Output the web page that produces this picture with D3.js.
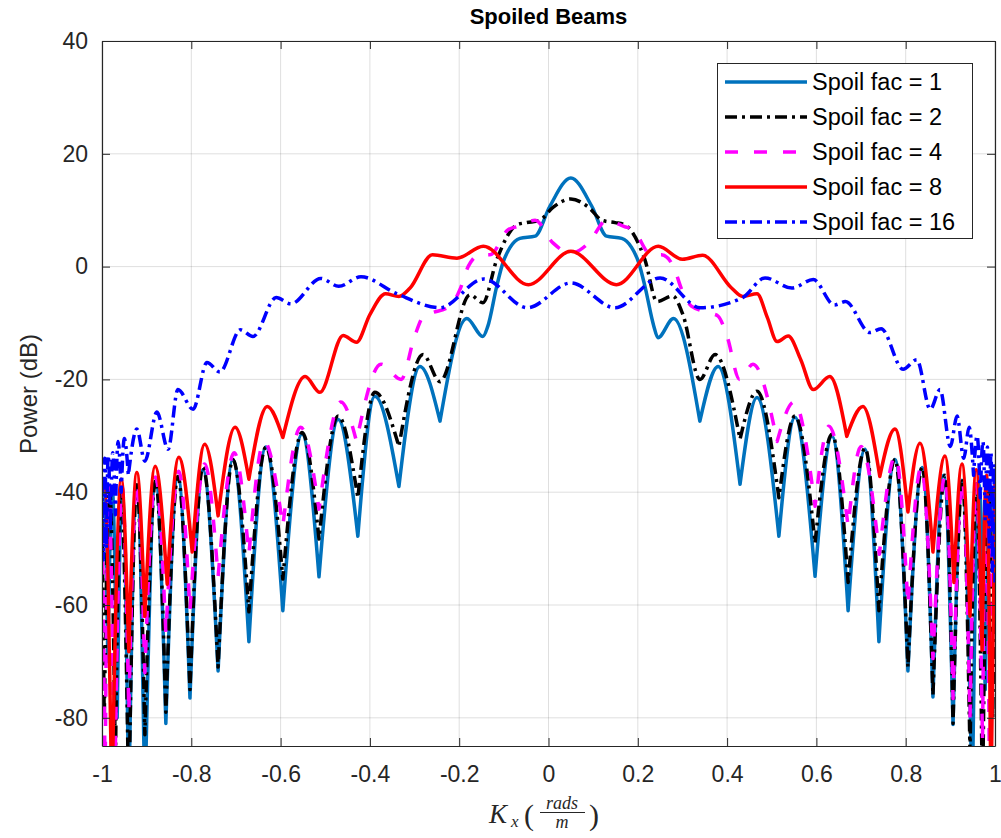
<!DOCTYPE html>
<html>
<head>
<meta charset="utf-8">
<script src="https://cdn.jsdelivr.net/npm/d3@7"></script>
<style>
  body { margin: 0; background: #fff; }
  text { font-family: "Liberation Sans", Arial, sans-serif; fill: #262626; }
  .axis path, .axis line { stroke: #262626; }
  .axis text { font-size: 23px; fill: #262626; }
</style>
</head>
<body>
<svg id="chart" width="1001" height="838"></svg>
<script>
// beam patterns: [Kx, power dB, 1 = sharp null]
const beamSpoil1 = [
  [-1.0,-40],[-0.995,-39.5],[-0.987,-70,1],[-0.977,-39.5],[-0.966,-80,1],[-0.955,-39.2],
  [-0.94,-95,1],[-0.922,-38.8],[-0.904,-95,1],[-0.88,-38.3],[-0.857,-81,1],[-0.83,-37.2],
  [-0.803,-76.5,1],[-0.774,-36],[-0.74,-71.7,1],[-0.707,-34.2],[-0.671,-66.5,1],[-0.633,-32],
  [-0.595,-61,1],[-0.552,-29.7],[-0.514,-55,1],[-0.471,-27.1],[-0.427,-47.8,1],[-0.389,-23],
  [-0.335,-39,1],[-0.288,-17.7],[-0.243,-27.4,1],[-0.183,-9.2],[-0.147,-12.4],[-0.136,-10.6],
  [-0.116,-3.5],[-0.102,0.7],[-0.086,3.4],[-0.064,5],[-0.03,5.4],[0.003,10.7],[0.05,15.7],
  [0.097,10.7],[0.13,5.4],[0.164,5],[0.186,3.4],[0.202,0.7],[0.216,-3.5],[0.236,-10.6],
  [0.245,-12.6],[0.28,-9.2],[0.339,-27.4,1],[0.38,-17.7],[0.429,-38.6,1],[0.467,-23.2],
  [0.516,-47.8,1],[0.552,-26.7],[0.597,-54.9,1],[0.635,-30.1],[0.671,-61,1],[0.709,-32.4],
  [0.74,-66.5,1],[0.776,-34.2],[0.805,-71.7,1],[0.837,-35.6],[0.861,-76.3,1],[0.885,-37],
  [0.906,-81.2,1],[0.926,-37.9],[0.949,-95,1],[0.964,-38.6],[0.978,-75,1],[0.99,-39],[1.0,-55]
];
const beamSpoil2 = [
  [-1.0,-45],[-0.995,-80,1],[-0.983,-39.5],[-0.97,-88,1],[-0.958,-39.2],[-0.94,-95,1],
  [-0.922,-38.7],[-0.904,-83,1],[-0.88,-38],[-0.857,-79,1],[-0.83,-37.2],[-0.803,-75,1],
  [-0.774,-35.6],[-0.74,-71,1],[-0.707,-34.2],[-0.671,-61.2,1],[-0.633,-32],[-0.595,-55.4,1],
  [-0.552,-29.4],[-0.514,-48.3,1],[-0.471,-26.5],[-0.427,-41,1],[-0.389,-22.3],[-0.335,-31.9,1],
  [-0.281,-15.6],[-0.243,-20.4],[-0.176,-5],[-0.147,-6.4],[-0.116,1.2],[-0.071,7.4],
  [-0.049,7.8],[-0.02,8.2],[0.01,10.5],[0.05,12],[0.09,10.5],[0.12,8.2],[0.149,7.8],
  [0.171,7.4],[0.216,1.2],[0.243,-6.2],[0.278,-5.2],[0.301,-8.5],[0.339,-20],[0.373,-15.6],
  [0.429,-30.6,1],[0.467,-22.1],[0.516,-41,1],[0.552,-26.5],[0.597,-49,1],[0.635,-29.7],
  [0.671,-56,1],[0.709,-32.2],[0.74,-61,1],[0.776,-34.2],[0.805,-71,1],[0.837,-35.6],
  [0.861,-76,1],[0.888,-37],[0.906,-81,1],[0.927,-38],[0.944,-86,1],[0.958,-38.5],
  [0.972,-95,1],[0.985,-39],[0.995,-80,1],[1.0,-45]
];
const beamSpoil4 = [
  [-1.0,-42],[-0.993,-90,1],[-0.985,-39],[-0.972,-95,1],[-0.955,-39],[-0.94,-79,1],
  [-0.922,-38.3],[-0.904,-72,1],[-0.88,-37.3],[-0.857,-65,1],[-0.828,-36.3],[-0.803,-61,1],
  [-0.77,-35],[-0.74,-55,1],[-0.704,-33],[-0.671,-51,1],[-0.637,-31],[-0.595,-46,1],
  [-0.555,-28.5],[-0.514,-43,1],[-0.465,-24],[-0.43,-31,1],[-0.375,-17.3],[-0.33,-20],
  [-0.30,-12.4],[-0.28,-8.8],[-0.265,-8.3],[-0.22,-7],[-0.198,-4],[-0.18,0],[-0.153,2.1],
  [-0.131,2.1],[-0.091,6.5],[-0.07,7.1],[-0.03,8.2],[0.01,4.2],[0.05,2.4],[0.09,4.2],
  [0.13,8.2],[0.17,7.1],[0.19,6.5],[0.23,2.1],[0.253,2.1],[0.28,0],[0.298,-4],[0.32,-7],
  [0.365,-8.3],[0.38,-8.8],[0.40,-12.4],[0.428,-20],[0.458,-17.3],[0.512,-31,1],[0.55,-24],
  [0.597,-42.5,1],[0.628,-28.3],[0.671,-46,1],[0.70,-31.9],[0.741,-51,1],[0.777,-33.6],
  [0.805,-60,1],[0.835,-35.5],[0.861,-69.5,1],[0.888,-37],[0.906,-76.6,1],[0.927,-38],
  [0.944,-80,1],[0.958,-38.5],[0.972,-84,1],[0.98,-39],[0.988,-95,1],[0.995,-39.5],[1.0,-45]
];
const beamSpoil8 = [
  [-1.0,-40],[-0.995,-38.5],[-0.978,-95,1],[-0.957,-37.7],[-0.94,-68.3,1],[-0.922,-36.5],
  [-0.904,-62,1],[-0.881,-35.4],[-0.854,-56.3,1],[-0.828,-33.8],[-0.798,-50.6,1],[-0.77,-31.5],
  [-0.74,-44.2,1],[-0.702,-28.5],[-0.671,-37.7,1],[-0.63,-24.8],[-0.595,-30.3,1],[-0.545,-19.5],
  [-0.512,-22.3],[-0.46,-12.2],[-0.43,-13.4],[-0.40,-8.5],[-0.365,-4.8],[-0.335,-5.3],
  [-0.31,-3.8],[-0.26,2.1],[-0.205,1.5],[-0.146,3.6],[-0.045,-3.2],[0.05,2.7],[0.152,-3.2],
  [0.246,3.6],[0.30,1.3],[0.345,2.0],[0.41,-3.8],[0.435,-5.3],[0.467,-4.8],[0.49,-9],
  [0.512,-13.3],[0.537,-12.3],[0.565,-16.5],[0.593,-21.8],[0.63,-19.5],[0.668,-30.1,1],
  [0.704,-24.8],[0.742,-37.2,1],[0.776,-28.8],[0.805,-43.5,1],[0.832,-31.3],[0.861,-50.6,1],
  [0.888,-33.6],[0.908,-56,1],[0.926,-35],[0.944,-62,1],[0.958,-36],[0.971,-68,1],
  [0.981,-37],[0.991,-95,1],[1.0,-38]
];
const beamSpoil16 = [
  [-1.0,-38],[-0.997,-52,1],[-0.994,-34],[-0.99,-50,1],[-0.986,-33.5],[-0.981,-47,1],
  [-0.976,-33],[-0.97,-44,1],[-0.964,-31],[-0.957,-40,1],[-0.95,-30.5],[-0.941,-37,1],
  [-0.922,-28.8],[-0.904,-34.5],[-0.877,-25.8],[-0.852,-32.4],[-0.83,-21.8],[-0.796,-25.3],
  [-0.765,-17],[-0.736,-18.7],[-0.69,-11.2],[-0.662,-12.4],[-0.61,-5.5],[-0.577,-6.6],
  [-0.51,-2.1],[-0.47,-3.5],[-0.42,-1.8],[-0.34,-4.8],[-0.243,-7.3],[-0.145,-2.2],
  [-0.047,-7.3],[0.05,-2.9],[0.149,-7.3],[0.25,-2.0],[0.34,-7.3],[0.435,-5.5],[0.485,-2.0],
  [0.545,-3.8],[0.593,-2.3],[0.64,-6.8],[0.665,-6.2],[0.72,-11.7],[0.745,-11],[0.794,-18.2],
  [0.825,-16.5],[0.855,-25.3],[0.877,-21.8],[0.90,-31.9],[0.915,-26.5],[0.93,-34],
  [0.942,-28.5],[0.952,-37,1],[0.96,-30],[0.967,-41,1],[0.973,-31],[0.978,-45,1],
  [0.983,-32],[0.987,-50,1],[0.991,-33],[0.994,-54,1],[0.997,-35],[1.0,-56]
];

const spoilLabels = ["Spoil fac = 1", "Spoil fac = 2", "Spoil fac = 4", "Spoil fac = 8", "Spoil fac = 16"];
const xTicks = [-1, -0.8, -0.6, -0.4, -0.2, 0, 0.2, 0.4, 0.6, 0.8, 1];
const yTicks = [-80, -60, -40, -20, 0, 20, 40];

const series = [
  {name: spoilLabels[0], data: beamSpoil1, color: "#0072BD", dash: null},
  {name: spoilLabels[1], data: beamSpoil2, color: "#000000", dash: "12,5,3,5"},
  {name: spoilLabels[2], data: beamSpoil4, color: "#FF00FF", dash: "13,16"},
  {name: spoilLabels[3], data: beamSpoil8, color: "#FF0000", dash: null},
  {name: spoilLabels[4], data: beamSpoil16, color: "#0000FF", dash: "12,5,3,5"}
];

const svg = d3.select("#chart");
const m = {left: 102, right: 995, top: 41, bottom: 746};

const x = d3.scaleLinear().domain([-1, 1]).range([m.left, m.right]);
const y = d3.scaleLinear().domain([-85, 40]).range([m.bottom, m.top]);

// grid
const grid = svg.append("g").attr("stroke", "#262626").attr("stroke-opacity", 0.15);
grid.selectAll(".gx").data(xTicks).enter().append("line")
  .attr("x1", d => x(d)).attr("x2", d => x(d)).attr("y1", m.top).attr("y2", m.bottom);
grid.selectAll(".gy").data(yTicks).enter().append("line")
  .attr("x1", m.left).attr("x2", m.right).attr("y1", d => y(d)).attr("y2", d => y(d));

svg.append("clipPath").attr("id", "plotClip").append("rect")
  .attr("x", m.left).attr("y", m.top).attr("width", m.right - m.left).attr("height", m.bottom - m.top);

// split at sharp nulls so the curve comes to a point there
function beamPath(data) {
  const line = d3.line().x(d => x(d[0])).y(d => y(d[1])).curve(d3.curveMonotoneX);
  const pieces = [];
  let cur = [data[0]];
  for (let i = 1; i < data.length; i++) {
    cur.push(data[i]);
    if (data[i][2]) { pieces.push(cur); cur = [data[i]]; }
  }
  if (cur.length > 1) pieces.push(cur);
  return pieces.map((p, i) => { const s = line(p); return i ? "L" + s.slice(1) : s; }).join("");
}

const lines = svg.append("g").attr("clip-path", "url(#plotClip)");
series.forEach(s => {
  lines.append("path")
    .attr("d", beamPath(s.data))
    .attr("fill", "none")
    .attr("stroke", s.color)
    .attr("stroke-width", 3.5)
    .attr("stroke-linejoin", "round")
    .attr("stroke-dasharray", s.dash);
});

// axes, ticks pointing in
const fmt = d => String(d);
svg.append("g").attr("class", "axis").attr("transform", `translate(0,${m.bottom})`)
  .call(d3.axisBottom(x).tickValues(xTicks).tickFormat(fmt).tickSize(-8).tickSizeOuter(0).tickPadding(20));
svg.append("g").attr("class", "axis").attr("transform", `translate(0,${m.top})`)
  .call(d3.axisTop(x).tickValues(xTicks).tickFormat("").tickSize(-8).tickSizeOuter(0));
svg.append("g").attr("class", "axis").attr("transform", `translate(${m.left},0)`)
  .call(d3.axisLeft(y).tickValues(yTicks).tickFormat(fmt).tickSize(-8).tickSizeOuter(0).tickPadding(14));
svg.append("g").attr("class", "axis").attr("transform", `translate(${m.right},0)`)
  .call(d3.axisRight(y).tickValues(yTicks).tickFormat("").tickSize(-8).tickSizeOuter(0));
svg.selectAll(".axis .domain").attr("stroke-width", 1.2);

// title and labels
svg.append("text").attr("x", (m.left + m.right) / 2).attr("y", 24)
  .attr("text-anchor", "middle").attr("font-size", 22).attr("font-weight", "bold")
  .style("fill", "#000").text("Spoiled Beams");

svg.append("text").attr("transform", "translate(37,394) rotate(-90)")
  .attr("text-anchor", "middle").attr("font-size", 24).text("Power (dB)");

const xl = svg.append("g").style("font-family", '"Liberation Serif", "Times New Roman", serif');
xl.append("text").attr("x", 489).attr("y", 823).attr("font-size", 27).attr("font-style", "italic")
  .style("font-family", "inherit").text("K");
xl.append("text").attr("x", 511).attr("y", 827).attr("font-size", 17).attr("font-style", "italic")
  .style("font-family", "inherit").text("x");
xl.append("text").attr("x", 524).attr("y", 825).attr("font-size", 30)
  .style("font-family", "inherit").text("(");
xl.append("text").attr("x", 562).attr("y", 809).attr("font-size", 18).attr("font-style", "italic")
  .attr("text-anchor", "middle").style("font-family", "inherit").text("rads");
xl.append("line").attr("x1", 540).attr("x2", 585).attr("y1", 812.5).attr("y2", 812.5)
  .attr("stroke", "#262626").attr("stroke-width", 1);
xl.append("text").attr("x", 562).attr("y", 828).attr("font-size", 18).attr("font-style", "italic")
  .attr("text-anchor", "middle").style("font-family", "inherit").text("m");
xl.append("text").attr("x", 589).attr("y", 825).attr("font-size", 30)
  .style("font-family", "inherit").text(")");

// legend
const lg = svg.append("g");
lg.append("rect").attr("x", 717.5).attr("y", 63.5).attr("width", 255).attr("height", 175)
  .attr("fill", "#fff").attr("stroke", "#262626").attr("stroke-width", 1);
series.forEach((s, i) => {
  const ly = 82 + i * 35;
  lg.append("line").attr("x1", 725).attr("x2", 807).attr("y1", ly).attr("y2", ly)
    .attr("stroke", s.color).attr("stroke-width", 3.5).attr("stroke-dasharray", s.dash);
  lg.append("text").attr("x", 812).attr("y", ly + 8).attr("font-size", 23.5).style("fill", "#000").text(s.name);
});
</script>
</body>
</html>
